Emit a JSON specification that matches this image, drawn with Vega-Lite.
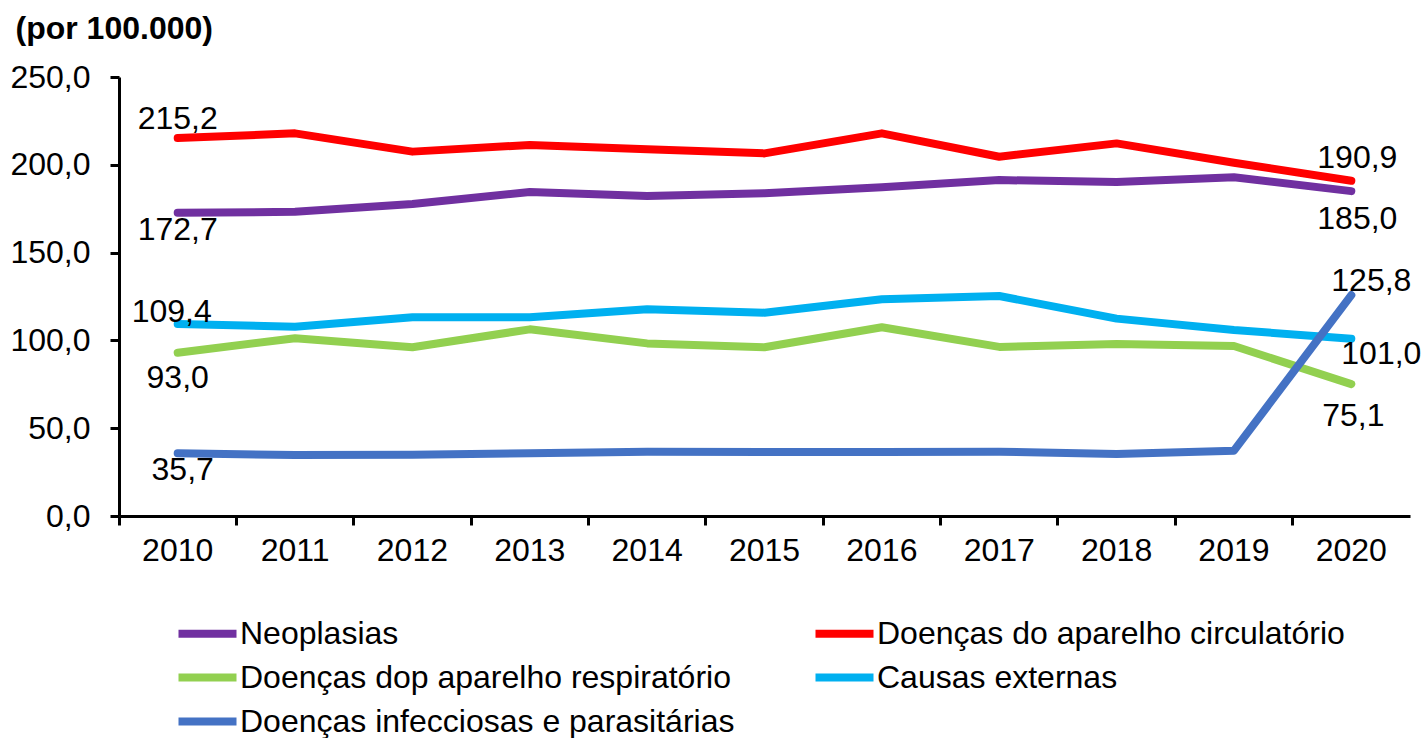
{
  "$schema": "https://vega.github.io/schema/vega-lite/v6.json",
  "width": 1291,
  "height": 439,
  "autosize": "none",
  "padding": {"left": 119, "top": 77, "right": 14, "bottom": 222},
  "background": "white",
  "config": {
    "locale": {"number": {"decimal": ",", "thousands": ".", "grouping": [3], "currency": ["", " €"]}},
    "view": {"stroke": null},
    "font": "Liberation Sans",
    "text": {"font": "Liberation Sans", "fontSize": 32, "color": "black", "baseline": "middle", "align": "center"}
  },
  "data": {"values": [
    {"ano": "2010", "serie": "Neoplasias", "valor": 172.7},
    {"ano": "2011", "serie": "Neoplasias", "valor": 173.2},
    {"ano": "2012", "serie": "Neoplasias", "valor": 177.7},
    {"ano": "2013", "serie": "Neoplasias", "valor": 184.5},
    {"ano": "2014", "serie": "Neoplasias", "valor": 182.2},
    {"ano": "2015", "serie": "Neoplasias", "valor": 183.8},
    {"ano": "2016", "serie": "Neoplasias", "valor": 187.2},
    {"ano": "2017", "serie": "Neoplasias", "valor": 191.3},
    {"ano": "2018", "serie": "Neoplasias", "valor": 190.2},
    {"ano": "2019", "serie": "Neoplasias", "valor": 192.9},
    {"ano": "2020", "serie": "Neoplasias", "valor": 185.0},
    {"ano": "2010", "serie": "Doenças do aparelho circulatório", "valor": 215.2},
    {"ano": "2011", "serie": "Doenças do aparelho circulatório", "valor": 217.9},
    {"ano": "2012", "serie": "Doenças do aparelho circulatório", "valor": 207.5},
    {"ano": "2013", "serie": "Doenças do aparelho circulatório", "valor": 211.3},
    {"ano": "2014", "serie": "Doenças do aparelho circulatório", "valor": 208.8},
    {"ano": "2015", "serie": "Doenças do aparelho circulatório", "valor": 206.5},
    {"ano": "2016", "serie": "Doenças do aparelho circulatório", "valor": 217.9},
    {"ano": "2017", "serie": "Doenças do aparelho circulatório", "valor": 204.6},
    {"ano": "2018", "serie": "Doenças do aparelho circulatório", "valor": 212.2},
    {"ano": "2019", "serie": "Doenças do aparelho circulatório", "valor": 201.2},
    {"ano": "2020", "serie": "Doenças do aparelho circulatório", "valor": 190.9},
    {"ano": "2010", "serie": "Doenças dop aparelho respiratório", "valor": 93.0},
    {"ano": "2011", "serie": "Doenças dop aparelho respiratório", "valor": 101.2},
    {"ano": "2012", "serie": "Doenças dop aparelho respiratório", "valor": 96.1},
    {"ano": "2013", "serie": "Doenças dop aparelho respiratório", "valor": 106.3},
    {"ano": "2014", "serie": "Doenças dop aparelho respiratório", "valor": 98.3},
    {"ano": "2015", "serie": "Doenças dop aparelho respiratório", "valor": 96.1},
    {"ano": "2016", "serie": "Doenças dop aparelho respiratório", "valor": 107.5},
    {"ano": "2017", "serie": "Doenças dop aparelho respiratório", "valor": 96.3},
    {"ano": "2018", "serie": "Doenças dop aparelho respiratório", "valor": 97.9},
    {"ano": "2019", "serie": "Doenças dop aparelho respiratório", "valor": 96.8},
    {"ano": "2020", "serie": "Doenças dop aparelho respiratório", "valor": 75.1},
    {"ano": "2010", "serie": "Causas externas", "valor": 109.4},
    {"ano": "2011", "serie": "Causas externas", "valor": 107.8},
    {"ano": "2012", "serie": "Causas externas", "valor": 113.2},
    {"ano": "2013", "serie": "Causas externas", "valor": 113.2},
    {"ano": "2014", "serie": "Causas externas", "valor": 117.7},
    {"ano": "2015", "serie": "Causas externas", "valor": 115.8},
    {"ano": "2016", "serie": "Causas externas", "valor": 123.4},
    {"ano": "2017", "serie": "Causas externas", "valor": 125.3},
    {"ano": "2018", "serie": "Causas externas", "valor": 112.4},
    {"ano": "2019", "serie": "Causas externas", "valor": 105.9},
    {"ano": "2020", "serie": "Causas externas", "valor": 101.0},
    {"ano": "2010", "serie": "Doenças infecciosas e parasitárias", "valor": 35.7},
    {"ano": "2011", "serie": "Doenças infecciosas e parasitárias", "valor": 34.7},
    {"ano": "2012", "serie": "Doenças infecciosas e parasitárias", "valor": 34.9},
    {"ano": "2013", "serie": "Doenças infecciosas e parasitárias", "valor": 35.7},
    {"ano": "2014", "serie": "Doenças infecciosas e parasitárias", "valor": 36.6},
    {"ano": "2015", "serie": "Doenças infecciosas e parasitárias", "valor": 36.4},
    {"ano": "2016", "serie": "Doenças infecciosas e parasitárias", "valor": 36.5},
    {"ano": "2017", "serie": "Doenças infecciosas e parasitárias", "valor": 36.6},
    {"ano": "2018", "serie": "Doenças infecciosas e parasitárias", "valor": 35.3},
    {"ano": "2019", "serie": "Doenças infecciosas e parasitárias", "valor": 37.2},
    {"ano": "2020", "serie": "Doenças infecciosas e parasitárias", "valor": 125.8}
  ]},
  "encoding": {
    "x": {
      "field": "ano", "type": "ordinal", "bandPosition": 0.5,
      "scale": {"type": "band", "paddingInner": 0, "paddingOuter": 0},
      "axis": {
        "title": null, "bandPosition": 0, "labelAngle": 0,
        "domainColor": "black", "domainWidth": 3, "tickColor": "black", "tickWidth": 3, "tickSize": 9,
        "labelFont": "Liberation Sans", "labelFontSize": 32, "labelColor": "black", "labelPadding": 10
      }
    },
    "y": {
      "field": "valor", "type": "quantitative",
      "scale": {"domain": [0, 250], "nice": false},
      "axis": {
        "values": [0, 50, 100, 150, 200, 250], "format": ".1f", "grid": false,
        "domainColor": "black", "domainWidth": 3, "tickColor": "black", "tickWidth": 3, "tickSize": 9,
        "labelFont": "Liberation Sans", "labelFontSize": 32, "labelColor": "black", "labelPadding": 20,
        "title": "(por 100.000)", "titleAngle": 0, "titleAlign": "left", "titleBaseline": "middle",
        "titleX": -104, "titleY": -49, "titleFont": "Liberation Sans", "titleFontSize": 32, "titleFontWeight": "bold", "titleColor": "black"
      }
    }
  },
  "layer": [
    {
      "mark": {"type": "line", "strokeWidth": 8, "strokeCap": "round", "strokeJoin": "round"},
      "encoding": {
        "color": {
          "field": "serie", "type": "nominal",
          "scale": {
            "domain": ["Neoplasias", "Doenças do aparelho circulatório", "Doenças dop aparelho respiratório", "Causas externas", "Doenças infecciosas e parasitárias"],
            "range": ["#7030A0", "#FF0000", "#92D050", "#00B0F0", "#4472C4"]
          },
          "legend": {
            "title": null, "orient": "none", "legendX": 70, "legendY": 538, "columns": 2, "direction": "horizontal",
            "symbolType": "M-2,0H2", "symbolSize": 841, "symbolStrokeWidth": 8,
            "labelFont": "Liberation Sans", "labelFontSize": 32, "labelColor": "black", "labelLimit": 0,
            "columnPadding": 64, "rowPadding": 9, "labelOffset": 14
          }
        }
      }
    },
    {"transform": [{"filter": "datum.serie === 'Doenças do aparelho circulatório' && datum.ano === '2010'"}], "mark": {"type": "text", "dy": -19}, "encoding": {"text": {"field": "valor", "format": ".1f"}}},
    {"transform": [{"filter": "datum.serie === 'Neoplasias' && datum.ano === '2010'"}], "mark": {"type": "text", "dy": 17}, "encoding": {"text": {"field": "valor", "format": ".1f"}}},
    {"transform": [{"filter": "datum.serie === 'Causas externas' && datum.ano === '2010'"}], "mark": {"type": "text", "dx": -6, "dy": -12}, "encoding": {"text": {"field": "valor", "format": ".1f"}}},
    {"transform": [{"filter": "datum.serie === 'Doenças dop aparelho respiratório' && datum.ano === '2010'"}], "mark": {"type": "text", "dy": 25}, "encoding": {"text": {"field": "valor", "format": ".1f"}}},
    {"transform": [{"filter": "datum.serie === 'Doenças infecciosas e parasitárias' && datum.ano === '2010'"}], "mark": {"type": "text", "dx": 5, "dy": 17}, "encoding": {"text": {"field": "valor", "format": ".1f"}}},
    {"transform": [{"filter": "datum.serie === 'Doenças do aparelho circulatório' && datum.ano === '2020'"}], "mark": {"type": "text", "dx": 6, "dy": -23}, "encoding": {"text": {"field": "valor", "format": ".1f"}}},
    {"transform": [{"filter": "datum.serie === 'Neoplasias' && datum.ano === '2020'"}], "mark": {"type": "text", "dx": 6, "dy": 28}, "encoding": {"text": {"field": "valor", "format": ".1f"}}},
    {"transform": [{"filter": "datum.serie === 'Doenças infecciosas e parasitárias' && datum.ano === '2020'"}], "mark": {"type": "text", "dx": 20, "dy": -14}, "encoding": {"text": {"field": "valor", "format": ".1f"}}},
    {"transform": [{"filter": "datum.serie === 'Causas externas' && datum.ano === '2020'"}], "mark": {"type": "text", "dx": 30, "dy": 15}, "encoding": {"text": {"field": "valor", "format": ".1f"}}},
    {"transform": [{"filter": "datum.serie === 'Doenças dop aparelho respiratório' && datum.ano === '2020'"}], "mark": {"type": "text", "dx": 2, "dy": 32}, "encoding": {"text": {"field": "valor", "format": ".1f"}}}
  ]
}
